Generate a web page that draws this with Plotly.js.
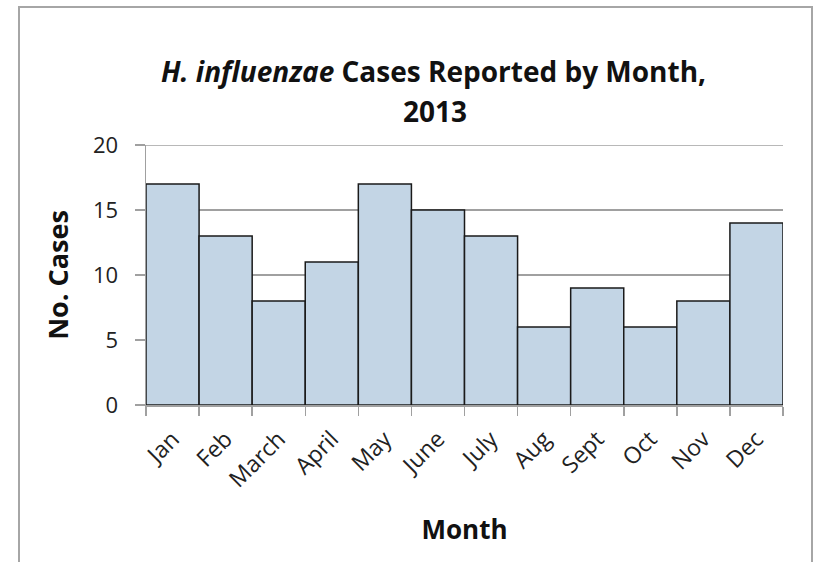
<!DOCTYPE html>
<html><head><meta charset="utf-8">
<script src="https://cdn.plot.ly/plotly-3.0.1.min.js"></script>
<style>
html,body{margin:0;padding:0;background:#fff;}
#frame{position:absolute;left:18px;top:6px;width:795px;height:600px;border:2px solid #a6a6a6;box-sizing:border-box;}
#chart{position:absolute;left:0;top:0;width:817px;height:562px;}
</style></head>
<body>
<div id="frame"></div>
<div id="chart"></div>
<script>
const months = ["Jan","Feb","March","April","May","June","July","Aug","Sept","Oct","Nov","Dec"];
const cases = [17,13,8,11,17,15,13,6,9,6,8,14];
const yTicks = [0,5,10,15,20];
const titleLine1 = "<i>H. influenzae</i> Cases Reported by Month,";
const titleLine2 = "2013";

const O = "'Open Sans', sans-serif";
const titleFont = {family:O, size:28, color:'#111', weight:'bold'};
Plotly.newPlot('chart', [{
  type:'bar', x:months, y:cases, width:1,
  marker:{color:'#c3d5e5', line:{color:'#1a1a1a', width:1.5}},
  hoverinfo:'none'
}], {
  width:817, height:562,
  margin:{l:146, r:34, t:145, b:157},
  paper_bgcolor:'rgba(0,0,0,0)', plot_bgcolor:'rgba(0,0,0,0)',
  bargap:0,
  showlegend:false,
  annotations:[
    {text:titleLine1, xref:'paper', yref:'paper', x:(433-146)/637, y:1+(145-71)/260, xanchor:'center', yanchor:'middle', showarrow:false, font:titleFont},
    {text:titleLine2, xref:'paper', yref:'paper', x:(435-146)/637, y:1+(145-111)/260, xanchor:'center', yanchor:'middle', showarrow:false, font:titleFont}
  ],
  shapes:[{type:'line', xref:'paper', yref:'y', x0:0, x1:1, y0:20, y1:20, line:{color:'#a0a0a0', width:1.5}, layer:'below'}],
  xaxis:{type:'category', tickson:'boundaries', ticks:'outside', ticklen:9, tickcolor:'#a0a0a0', tickwidth:1.5,
    showline:true, linecolor:'#a0a0a0', linewidth:1.5, showgrid:false,
    tickangle:-45, ticklabelstandoff:10, tickfont:{family:O, size:23, color:'#222'},
    title:{text:'Month', font:{family:O, size:26, color:'#111', weight:'bold'}, standoff:28}},
  yaxis:{range:[0,20], tickvals:yTicks, ticks:'outside', ticklen:10, tickcolor:'#a0a0a0', tickwidth:1.5,
    showline:true, linecolor:'#a0a0a0', linewidth:1.5,
    showgrid:true, gridcolor:'#a0a0a0', gridwidth:1.5, zeroline:false,
    ticklabelstandoff:12, tickfont:{family:O, size:22, color:'#222'},
    title:{text:'No. Cases', font:{family:O, size:27, color:'#111', weight:'bold'}, standoff:16}}
}, {staticPlot:true});
</script>
</body></html>
